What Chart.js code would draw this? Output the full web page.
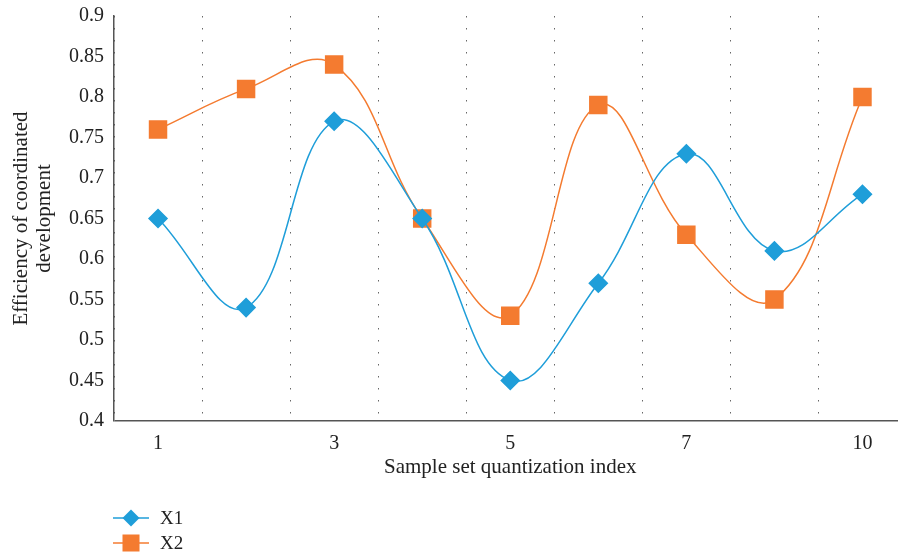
<!DOCTYPE html>
<html>
<head>
<meta charset="utf-8">
<script src="https://cdn.jsdelivr.net/npm/chart.js@4/dist/chart.umd.min.js"></script>
<style>
  html, body { margin: 0; padding: 0; background: #fff; overflow: hidden; }
  #wrap { position: relative; width: 898px; height: 556px; overflow: hidden; }
  #c { position: absolute; left: 0; top: 0; }
  #legend { position: absolute; left: 113px; top: 505px; font-family: "Liberation Serif", "DejaVu Serif", serif; font-size: 19px; color: #222; }
  .item { display: flex; align-items: center; height: 25px; }
  .item svg { margin-right: 11px; }
</style>
</head>
<body>
<div id="wrap">
  <canvas id="c" width="920" height="556" style="width:920px;height:556px"></canvas>
  <div id="legend"></div>
</div>
<script>
const categories = ['1', '2', '3', '4', '5', '6', '7', '8', '10'];
const tickLabels = ['1', '', '3', '', '5', '', '7', '', '10'];
const seriesX1 = [0.65, 0.54, 0.77, 0.65, 0.45, 0.57, 0.73, 0.61, 0.68];
const seriesX2 = [0.76, 0.81, 0.84, 0.65, 0.53, 0.79, 0.63, 0.55, 0.80];
const yTicks = [0.4, 0.45, 0.5, 0.55, 0.6, 0.65, 0.7, 0.75, 0.8, 0.85, 0.9];

const BLUE = '#1f9ed9';
const ORANGE = '#f47b30';
const AXIS = '#555';
const FONT = '"Liberation Serif", "DejaVu Serif", serif';

const ctx = document.getElementById('c');
new Chart(ctx, {
  type: 'line',
  data: {
    labels: categories,
    datasets: [
      { label: 'X1', data: seriesX1, borderColor: BLUE, backgroundColor: BLUE, borderWidth: 1.5,
        pointStyle: 'rectRot', pointRadius: 9, pointHoverRadius: 9, tension: 0.4, fill: false },
      { label: 'X2', data: seriesX2, borderColor: ORANGE, backgroundColor: ORANGE, borderWidth: 1.5,
        pointStyle: 'rect', pointRadius: 12, pointHoverRadius: 12, tension: 0.4, fill: false }
    ]
  },
  options: {
    responsive: false,
    animation: false,
    devicePixelRatio: 1,
    layout: { padding: { top: 16, left: 0, right: 0, bottom: 0 } },
    plugins: { legend: { display: false }, tooltip: { enabled: false } },
    scales: {
      x: {
        offset: true,
        grid: { display: true, offset: true, drawTicks: false, color: '#666', lineWidth: 1 },
        border: { display: false, dash: [1.5, 10.5] },
        ticks: { autoSkip: false, maxRotation: 0, padding: 11, color: '#222',
                 font: { family: FONT, size: 20 },
                 callback: (v, i) => tickLabels[i] },
        title: { display: true, text: 'Sample set quantization index', color: '#222',
                 font: { family: FONT, size: 21 }, padding: { top: 0, bottom: 76 } },
        afterFit: (s) => { s.height = 135; }
      },
      y: {
        min: 0.4, max: 0.9,
        afterBuildTicks: (s) => { s.ticks = yTicks.map(v => ({ value: v })); },
        grid: { display: true, drawTicks: false, lineWidth: 1.5,
                color: (c) => (c.tick && Math.abs(c.tick.value - 0.4) < 1e-9) ? AXIS : 'rgba(0,0,0,0)' },
        border: { display: true, color: AXIS, width: 1.5 },
        ticks: { padding: 10, color: '#222', font: { family: FONT, size: 20 },
                 callback: (v) => String(+Number(v).toFixed(2)) },
        title: { display: true, text: ['Efficiency of coordinated', 'development'], color: '#222',
                 font: { family: FONT, size: 21, lineHeight: 1.1 }, padding: { top: 10, bottom: 0 } },
        afterFit: (s) => { s.width = 114; s.paddingTop = 0; s.paddingBottom = 0; }
      }
    }
  }
});

// HTML legend
const legendEl = document.getElementById('legend');
const items = [
  { label: 'X1', color: BLUE, shape: 'diamond' },
  { label: 'X2', color: ORANGE, shape: 'square' }
];
items.forEach(it => {
  const d = document.createElement('div');
  d.className = 'item';
  const marker = it.shape === 'diamond'
    ? `<polygon points="18,3.5 26.5,12 18,20.5 9.5,12" fill="${it.color}"/>`
    : `<rect x="9.5" y="3.5" width="17" height="17" fill="${it.color}"/>`;
  d.innerHTML = `<svg width="36" height="24"><line x1="0" y1="12" x2="36" y2="12" stroke="${it.color}" stroke-width="1.5"/>${marker}</svg><span>${it.label}</span>`;
  legendEl.appendChild(d);
});
</script>
</body>
</html>
